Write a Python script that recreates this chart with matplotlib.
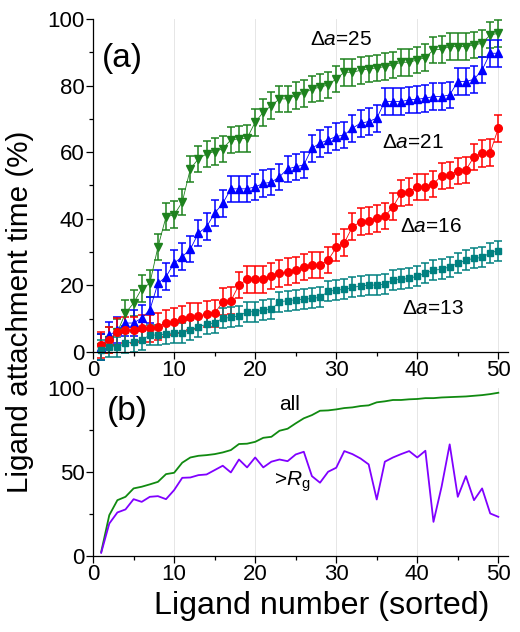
import numpy as np
import matplotlib
matplotlib.use("Agg")
import matplotlib.pyplot as plt
from matplotlib.ticker import MultipleLocator

# Data

ligand = list(range(1, 51))

# (a) attachment time (%) per sorted ligand, one series per delta a
da25 = [1.5, 3.6, 6.0, 11.7, 14.7, 19.0, 20.6, 31.5, 40.6, 41.2,
        45.0, 55.0, 58.0, 59.5, 60.2, 61.0, 63.7, 64.0, 64.2, 69.0,
        72.0, 74.0, 76.0, 76.0, 77.0, 77.7, 79.0, 79.5, 80.2, 82.0,
        84.0, 84.0, 84.6, 85.0, 85.3, 85.7, 86.2, 87.0, 87.0, 87.7,
        88.4, 90.7, 90.9, 91.7, 91.7, 91.7, 92.2, 92.7, 95.2, 95.7]
da21 = [1.5, 5.0, 6.6, 8.7, 8.7, 10.2, 12.6, 20.6, 22.6, 26.7,
        28.6, 30.9, 35.7, 37.6, 41.7, 44.6, 49.0, 49.0, 49.0, 49.6,
        50.6, 51.0, 52.6, 55.0, 55.6, 56.2, 61.2, 62.7, 63.7, 64.7,
        65.2, 67.2, 68.7, 69.2, 70.2, 75.2, 75.2, 75.2, 75.7, 75.9,
        76.2, 76.7, 76.7, 77.2, 81.2, 81.2, 81.9, 84.7, 89.7, 89.7]
da16 = [2.1, 3.6, 6.1, 6.6, 6.6, 7.1, 7.1, 7.6, 8.6, 9.1,
        9.8, 10.6, 10.8, 11.4, 11.6, 15.1, 15.4, 20.1, 21.8, 21.8,
        21.8, 22.8, 23.6, 24.1, 24.6, 25.5, 26.1, 26.1, 27.6, 31.4,
        32.8, 37.6, 39.1, 39.4, 40.1, 40.8, 43.6, 47.7, 48.1, 49.5,
        49.5, 50.5, 52.9, 53.2, 54.4, 54.7, 58.6, 59.7, 59.9, 67.2]
da13 = [0.6, 1.6, 1.6, 2.6, 3.1, 3.6, 5.1, 5.1, 5.4, 5.8,
        5.8, 6.6, 7.6, 8.3, 8.8, 10.1, 10.4, 10.8, 12.1, 12.1,
        12.6, 12.8, 15.1, 15.4, 15.7, 15.8, 16.1, 16.4, 18.2, 18.6,
        18.8, 19.4, 19.8, 20.1, 20.1, 20.4, 21.6, 21.8, 22.1, 22.8,
        23.6, 24.6, 24.8, 25.6, 26.6, 27.6, 28.1, 28.4, 29.8, 30.4]
err_da25 = 4.0
err_da21 = 4.0
err_da16 = 4.0
err_da13 = 3.0

# (b) all / beyond Rg
frac_all = [2.5, 24.4, 33.3, 35.3, 40.3, 41.3, 42.7, 44.2, 48.8, 49.6,
            55.6, 58.7, 59.7, 60.1, 60.7, 61.7, 63.1, 66.7, 66.9, 68.0,
            70.4, 71.0, 74.6, 75.8, 79.0, 82.0, 83.9, 86.5, 86.7, 87.3,
            88.1, 88.5, 89.3, 89.7, 91.5, 92.1, 92.9, 92.9, 93.3, 93.5,
            94.0, 94.0, 94.4, 94.6, 94.8, 95.0, 95.4, 95.8, 96.4, 97.2]
frac_rg = [2.0, 19.4, 26.0, 27.8, 33.9, 32.3, 35.3, 35.7, 33.9, 39.3,
           46.6, 46.8, 48.2, 48.6, 51.2, 53.8, 49.8, 57.5, 52.8, 58.7,
           52.8, 56.2, 57.5, 56.5, 60.5, 62.1, 47.6, 43.7, 50.2, 52.6,
           62.5, 60.7, 58.1, 54.6, 33.7, 56.2, 58.7, 60.7, 62.5, 58.7,
           62.7, 20.4, 41.3, 66.5, 35.3, 47.6, 33.3, 40.3, 25.4, 23.4]

plt.rcParams["font.family"] = ["Liberation Sans", "DejaVu Sans"]
plt.rcParams["mathtext.fontset"] = "custom"
plt.rcParams["mathtext.rm"] = "Liberation Sans"
plt.rcParams["mathtext.it"] = "Liberation Sans:italic"


def style_axes(ax, ymajor, yminor):
    ax.spines["top"].set_visible(False)
    ax.spines["right"].set_visible(False)
    for s in ("left", "bottom"):
        ax.spines[s].set_linewidth(0.9)
    ax.xaxis.set_major_locator(MultipleLocator(10))
    ax.xaxis.set_minor_locator(MultipleLocator(5))
    ax.yaxis.set_major_locator(MultipleLocator(ymajor))
    ax.yaxis.set_minor_locator(MultipleLocator(yminor))
    ax.tick_params(which="major", direction="out", length=5, width=0.9,
                   labelsize=16, pad=1)
    ax.tick_params(which="minor", direction="out", length=3, width=0.9)
    ax.grid(axis="x", which="major", color="#e6e6e6", linewidth=0.7)
    ax.set_axisbelow(True)
    ax.set_xlim(0, 51.2)


fig = plt.figure(figsize=(5.2, 6.32), dpi=100)
ax1 = fig.add_axes([0.179, 0.443, 0.798, 0.527])
ax2 = fig.add_axes([0.179, 0.120, 0.798, 0.266])

series = [
    (da25, err_da25, "v", "#1e821e"),
    (da21, err_da21, "^", "#0000ff"),
    (da16, err_da16, "o", "#ff0000"),
    (da13, err_da13, "s", "#008080"),
]
for vals, err, mk, col in series:
    ax1.errorbar(ligand, vals, yerr=err, fmt=mk + "-", color=col,
                 ms=5.5 if mk != "s" else 4.5, lw=0.6, elinewidth=1.1,
                 capsize=2.6, capthick=1.1, clip_on=False)

style_axes(ax1, 20, 10)
ax1.set_ylim(0, 100)
ax1.text(1.1, 88, "(a)", fontsize=24, va="center")
ax1.text(26.8, 93.7, r"$\Delta\mathit{a}$=25", fontsize=15, va="center")
ax1.text(35.7, 63.0, r"$\Delta\mathit{a}$=21", fontsize=15, va="center")
ax1.text(37.9, 37.8, r"$\Delta\mathit{a}$=16", fontsize=15, va="center")
ax1.text(38.1, 13.2, r"$\Delta\mathit{a}$=13", fontsize=15, va="center")

ax2.plot(ligand, frac_all, color="#108a10", lw=1.3)
ax2.plot(ligand, frac_rg, color="#8000ff", lw=1.3)
style_axes(ax2, 50, 25)
ax2.set_ylim(0, 100)
ax2.text(1.7, 86, "(b)", fontsize=24, va="center")
ax2.text(23.0, 90, "all", fontsize=15, va="center")
ax2.text(22.3, 44, r">$\mathit{R}_{\mathrm{g}}$", fontsize=15, va="center")
ax2.set_xlabel("Ligand number (sorted)", fontsize=23.2)
ax2.xaxis.set_label_coords(0.552, -0.205)

fig.text(0.038, 0.507, "Ligand attachment time (%)", rotation=90,
         fontsize=21.3, ha="center", va="center")

fig.savefig("out.png", dpi=100)
